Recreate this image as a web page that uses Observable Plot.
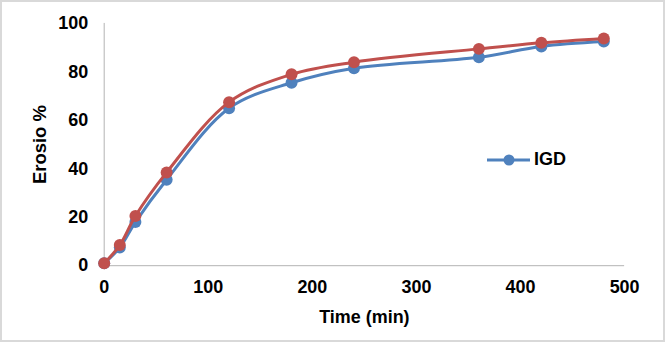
<!DOCTYPE html>
<html><head><meta charset="utf-8">
<script src="https://cdn.jsdelivr.net/npm/d3@7"></script>
<script src="https://cdn.jsdelivr.net/npm/@observablehq/plot@0.6"></script>
<style>
html,body{margin:0;padding:0;background:#fff;}
#wrap{position:relative;width:665px;height:342px;box-sizing:border-box;border:2px solid #d9d9d9;overflow:hidden;}
#chart{position:absolute;left:-2px;top:-2px;}
#legend{position:absolute;left:485px;top:147px;font:bold 18px "Liberation Sans",Arial,sans-serif;display:flex;align-items:center;color:#000;}
</style></head>
<body>
<div id="wrap"><div id="chart"></div>
<div id="legend"><svg width="44" height="20"><line x1="0" y1="10" x2="43" y2="10" stroke="#4f81bd" stroke-width="3"/><circle cx="22" cy="10" r="5.5" fill="#4f81bd"/></svg><span style="margin-left:3px">IGD</span></div>
</div>
<script>
const time = [0, 15, 30, 60, 120, 180, 240, 360, 420, 480];
const igd = [1, 7.5, 18, 35.5, 65, 75.5, 81.5, 86, 90.5, 92.5];
const series2 = [1, 8.5, 20.5, 38.5, 67.5, 79, 84, 89.5, 92, 93.8];
const xTicks = [0, 100, 200, 300, 400, 500];
const yTicks = [0, 20, 40, 60, 80, 100];

const blue = time.map((t, i) => ({t, v: igd[i]}));
const red = time.map((t, i) => ({t, v: series2[i]}));

const chart = Plot.plot({
  width: 665, height: 342,
  marginLeft: 104, marginRight: 39, marginTop: 23, marginBottom: 76,
  style: {fontFamily: '"Liberation Sans", Arial, sans-serif', fontSize: "18px", fontWeight: "bold", color: "#000", background: "transparent"},
  x: {domain: [0, 500], ticks: xTicks},
  y: {domain: [0, 100], ticks: yTicks},
  marks: [
    Plot.ruleX([0], {stroke: "#b3b3b3", strokeWidth: 1}),
    Plot.ruleY([0], {stroke: "#b3b3b3", strokeWidth: 1}),
    Plot.axisX({ticks: xTicks, tickSize: 0, tickPadding: 15, label: null, fontSize: 18, fontWeight: "bold"}),
    Plot.axisY({ticks: yTicks, tickSize: 0, tickPadding: 16, label: null, fontSize: 18, fontWeight: "bold"}),
    Plot.axisY({ticks: [], tickSize: 0, label: "Erosio %", labelAnchor: "center", labelArrow: "none", labelOffset: 72, fontSize: 18.5, fontWeight: "bold"}),
    Plot.text(["Time (min)"], {frameAnchor: "bottom", dy: 57, text: d => d, fontSize: 18, fontWeight: "bold"}),
    Plot.line(blue, {x: "t", y: "v", stroke: "#4f81bd", strokeWidth: 3, curve: "catmull-rom"}),
    Plot.dot(blue, {x: "t", y: "v", fill: "#4f81bd", r: 6}),
    Plot.line(red, {x: "t", y: "v", stroke: "#c0504d", strokeWidth: 3, curve: "catmull-rom"}),
    Plot.dot(red, {x: "t", y: "v", fill: "#c0504d", r: 6})
  ]
});
document.getElementById("chart").appendChild(chart);
</script>
</body></html>
